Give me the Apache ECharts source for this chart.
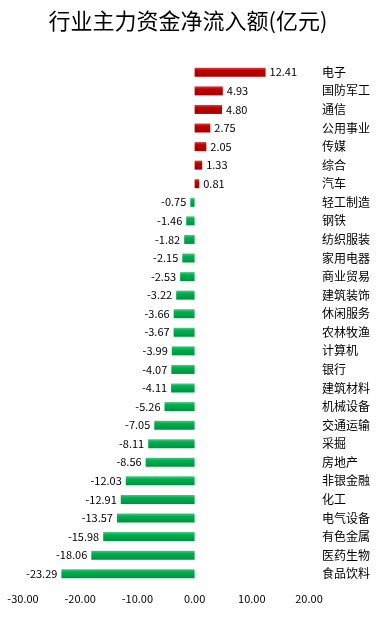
<!DOCTYPE html>
<html lang="zh-CN">
<head>
  <meta charset="UTF-8">
  <title>行业主力资金净流入额</title>
  <script src="https://cdn.jsdelivr.net/npm/echarts@6/dist/echarts.min.js"></script>
  <style>
    html, body { margin: 0; padding: 0; background: #fff; }
    #chart { width: 376px; height: 619px; }
  </style>
</head>
<body>
  <div id="chart"></div>
  <script>
    // 行业名称（从上到下）
    const industries = ['电子', '国防军工', '通信', '公用事业', '传媒', '综合', '汽车',
      '轻工制造', '钢铁', '纺织服装', '家用电器', '商业贸易', '建筑装饰', '休闲服务',
      '农林牧渔', '计算机', '银行', '建筑材料', '机械设备', '交通运输', '采掘',
      '房地产', '非银金融', '化工', '电气设备', '有色金属', '医药生物', '食品饮料'];
    // 净流入额（亿元）
    const netInflow = [12.41, 4.93, 4.80, 2.75, 2.05, 1.33, 0.81,
      -0.75, -1.46, -1.82, -2.15, -2.53, -3.22, -3.66,
      -3.67, -3.99, -4.07, -4.11, -5.26, -7.05, -8.11,
      -8.56, -12.03, -12.91, -13.57, -15.98, -18.06, -23.29];

    const font = "'Noto Sans CJK SC', 'Liberation Sans', sans-serif";

    // 正值红色、负值绿色，带一点立体感
    const red = new echarts.graphic.LinearGradient(0, 0, 0, 1, [
      { offset: 0, color: '#e04040' }, { offset: 0.3, color: '#c00000' }, { offset: 1, color: '#a00000' }
    ]);
    const green = new echarts.graphic.LinearGradient(0, 0, 0, 1, [
      { offset: 0, color: '#40d080' }, { offset: 0.3, color: '#00b050' }, { offset: 1, color: '#009040' }
    ]);

    const chart = echarts.init(document.getElementById('chart'));
    chart.setOption({
      animation: false,
      title: {
        text: '行业主力资金净流入额(亿元)',
        left: 'center',
        top: 5,
        textStyle: { fontFamily: font, fontSize: 22, fontWeight: 'normal', color: '#000' }
      },
      grid: { left: 23, right: 67, top: 63, bottom: 36 },
      xAxis: {
        type: 'value',
        min: -30,
        max: 20,
        interval: 10,
        splitLine: { show: false },
        axisLine: { show: false },
        axisTick: { show: false },
        axisLabel: {
          formatter: v => v.toFixed(2),
          color: '#000',
          fontFamily: font,
          fontSize: 11,
          margin: 10
        }
      },
      yAxis: {
        type: 'category',
        data: industries,
        inverse: true,
        position: 'right',
        axisLine: { show: false },
        axisTick: { show: false },
        axisLabel: {
          color: '#000',
          fontFamily: font,
          fontSize: 12,
          margin: 13,
          align: 'left'
        }
      },
      series: [{
        type: 'bar',
        barWidth: 9,
        data: netInflow.map(v => ({
          value: v,
          itemStyle: { color: v >= 0 ? red : green },
          label: { position: v >= 0 ? 'right' : 'left' }
        })),
        label: {
          show: true,
          formatter: p => p.value.toFixed(2),
          color: '#000',
          fontFamily: font,
          fontSize: 11,
          distance: 4
        }
      }]
    });
  </script>
</body>
</html>
